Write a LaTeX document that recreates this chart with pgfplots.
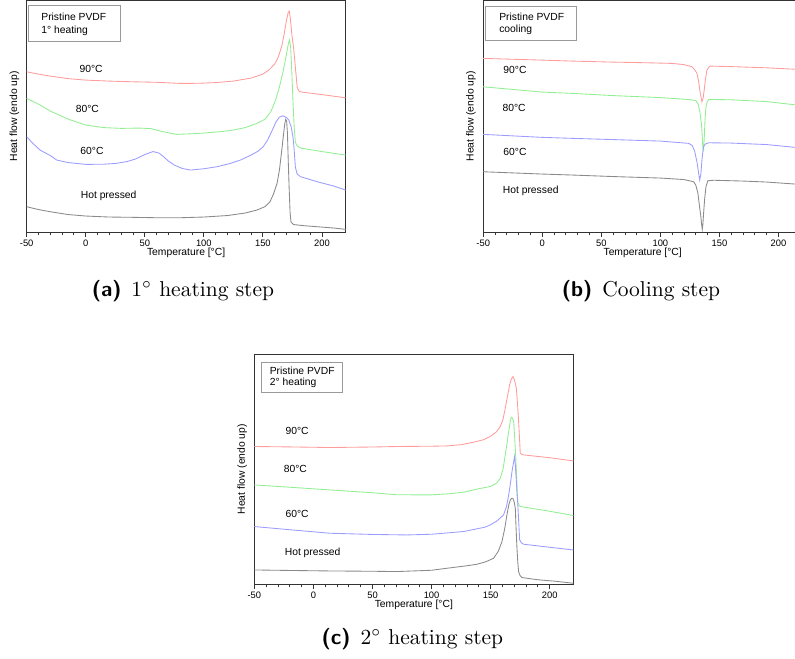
\documentclass[border=0pt]{standalone}
\usepackage{fontspec}
\usepackage{pgfplots}
\pgfplotsset{compat=1.18}
\newfontfamily\chartfont{Liberation Sans}
\definecolor{c90}{HTML}{FF9C9C}
\definecolor{c80}{HTML}{92EE92}
\definecolor{c60}{HTML}{9C9CFF}
\definecolor{chp}{HTML}{8A8A8A}
\definecolor{boxgrey}{HTML}{9A9A9A}
\newcommand{\lbl}{\chartfont\fontsize{4.8pt}{5.7pt}\selectfont}
\newcommand{\tck}{\chartfont\fontsize{4.35pt}{5.2pt}\selectfont}

\pgfplotsset{
  dsc/.style={
    scale only axis,
    width=148.3pt,
    xmin=-50, xmax=220, ymin=0,
    axis line style={draw=black!80, line width=0.45pt},
    xtick={-50,0,50,100,150,200},
    xticklabels={-50,0,50,100,150,200},
    minor x tick num=4,
    xtick pos=bottom,
    ytick=\empty,
    tick align=outside,
    major tick length=2.3pt,
    minor tick length=1.4pt,
    tick style={draw=black!80, line width=0.4pt},
    xticklabel style={font=\tck, inner sep=1pt},
    xlabel={Temperature [°C]},
    ylabel={Heat flow (endo up)},
    xlabel style={font=\lbl, at={(axis description cs:0.5,-0.088)}, anchor=center},
    ylabel style={font=\lbl, at={(axis description cs:-0.038,0.5)}, anchor=center},
    every axis plot/.append style={line width=0.4pt, mark=none},
    clip=true,
  },
}

\begin{document}
\begin{tikzpicture}
\useasboundingbox (0,0) rectangle (369.7pt,306pt);

% ---------- (a) 1st heating ----------
\begin{axis}[dsc, height=107.6pt, ymax=231.5, at={(12.4pt,198.1pt)}, anchor=south west]
\addplot[c90] coordinates {
 (-50,160.3) (-40,158) (-30,156) (-15,153.5) (0,152) (20,151) (40,150.3)
 (60,149.8) (80,148.7) (95,148.8) (110,149.5) (125,151) (140,154) (150,158)
 (155,162) (160,168) (163,175) (166,186) (168,198) (170,212) (171.5,220)
 (172.3,221) (173.3,213) (174.5,198) (176,184) (177.5,165) (179,145)
 (180.5,141) (183,140) (200,137.5) (220,134.3)};
\addplot[c80] coordinates {
 (-50,133.7) (-40,128) (-30,121) (-15,113) (0,107) (15,104.5) (30,103.7)
 (45,104) (55,103.5) (65,100.5) (77,97.7) (90,98.3) (100,99) (115,100.5)
 (125,102) (135,104.5) (145,108.7) (152,113) (157,121) (161,133) (164,145)
 (167,160) (169.5,175) (171.5,188) (172.5,192) (173.5,185) (174.5,160)
 (175.5,130) (176.5,105) (177.5,90) (179,86) (182,84) (200,80.5) (220,77)};
\addplot[c60] coordinates {
 (-50,95.3) (-45,89) (-38.7,82) (-30,76.5) (-24.5,72) (-15,69.5) (0,67.7)
 (15,67.8) (26,68.7) (35,70.5) (42,73) (50,77.5) (57,80.5) (62,79) (66,75.3)
 (70,71) (75,67) (82,63.5) (89,62) (100,63.3) (111,65.3) (122,68.5) (131,72)
 (140,77) (146,81) (150,85) (154,92) (158,102) (161,110) (164,115)
 (167,116.3) (170,114.5) (172,112) (174,105) (175.5,95) (176.5,82)
 (177.5,65) (179,58) (182,55.3) (190,52.5) (196,50.3) (210,46) (220,42)};
\addplot[chp] coordinates {
 (-50,25.3) (-40,22.5) (-30,20.3) (-15,17.5) (0,16) (20,15) (40,14.7)
 (60,14.3) (80,14.3) (100,15) (120,16.5) (135,19) (145,22) (152,25.5)
 (156,30.3) (159,38) (162,48.7) (164,62) (166,82) (167.5,98) (168.5,108)
 (169.3,112.7) (170.1,111) (170.8,98.7) (171.5,70) (172.2,45) (173,20)
 (173.8,10) (176,7.5) (185,6.3) (196,5.3) (210,4) (220,2.7)};
\draw[boxgrey, line width=0.35pt] (axis cs:-48.5,227) rectangle (axis cs:29.4,191);
\node[font=\lbl, anchor=west, inner sep=0pt] at (axis cs:-37.9,215.3) {Pristine PVDF};
\node[font=\lbl, anchor=west, inner sep=0pt] at (axis cs:-37.9,201) {1° heating};
\node[font=\lbl, anchor=west, inner sep=0pt] at (axis cs:-5.6,162.7) {90°C};
\node[font=\lbl, anchor=west, inner sep=0pt] at (axis cs:-8.7,123) {80°C};
\node[font=\lbl, anchor=west, inner sep=0pt] at (axis cs:-4.8,81.3) {60°C};
\node[font=\lbl, anchor=west, inner sep=0pt] at (axis cs:-4.5,36.3) {Hot pressed};
\end{axis}

% ---------- (b) cooling ----------
\begin{axis}[dsc, height=107.6pt, ymax=231.5, at={(224.7pt,198.1pt)}, anchor=south west]
\addplot[c90] coordinates {
 (-50,173.7) (0,172) (25.8,171) (60,170) (90,169.3) (110,168.7) (120,167.5)
 (126.8,165.3) (129,162.5) (131,158.7) (132.5,150) (133.8,138.7)
 (135.2,130.3) (136.2,134) (137.1,142) (138.2,153) (139.4,162) (141,165)
 (142.2,166) (160,165.5) (190,164.3) (220,162.5)};
\addplot[c80] coordinates {
 (-50,145.3) (0,140) (25.8,138.7) (60,136.5) (100,134.5) (125,132.5)
 (130,131.5) (132,128) (133.5,120) (134.8,108) (135.5,95) (136,84)
 (136.6,82) (137.2,95) (137.8,112) (138.5,124) (139.5,130) (141,132.7)
 (160,132.3) (190,130.5) (220,126.5)};
\addplot[c60] coordinates {
 (-50,97.7) (0,94.7) (25.8,93.7) (60,92.5) (100,91) (124,88.7) (127,86.5)
 (129,81) (131,70) (132.5,58) (133.3,52) (134.3,58) (135.2,72) (136,81)
 (136.6,85.3) (138,88) (141,89.3) (160,89) (190,87.5) (220,84)};
\addplot[chp] coordinates {
 (-50,60.3) (0,58) (25.8,57) (60,55.5) (100,54) (120,52.5) (128.2,50.3)
 (130,47) (131.8,38.7) (133,27) (134.3,15.3) (135,7) (135.5,2.7) (136,8)
 (136.6,18.7) (137.5,33) (138.6,45.3) (140.2,51.3) (145,51.8) (170,51)
 (190,50) (220,47.5)};
\draw[boxgrey, line width=0.35pt] (axis cs:-48,225.3) rectangle (axis cs:29,191.3);
\node[font=\lbl, anchor=west, inner sep=0pt] at (axis cs:-36.7,215.3) {Pristine PVDF};
\node[font=\lbl, anchor=west, inner sep=0pt] at (axis cs:-36.7,202) {cooling};
\node[font=\lbl, anchor=west, inner sep=0pt] at (axis cs:-33.2,162) {90°C};
\node[font=\lbl, anchor=west, inner sep=0pt] at (axis cs:-34,124.3) {80°C};
\node[font=\lbl, anchor=west, inner sep=0pt] at (axis cs:-33.2,79.7) {60°C};
\node[font=\lbl, anchor=west, inner sep=0pt] at (axis cs:-33.7,41) {Hot pressed};
\end{axis}

% ---------- (c) 2nd heating ----------
\begin{axis}[dsc, height=107pt, ymax=230, at={(118.3pt,34.3pt)}, anchor=south west]
\addplot[c90] coordinates {
 (-50,137.7) (-20,137.3) (14,136.7) (50,137.2) (70.6,137.7) (100,138)
 (113,138.3) (125,139.5) (135.6,142) (144,144.5) (149.7,147.7) (155,152.5)
 (158.2,157.7) (160.5,165) (162.4,176) (164.3,188) (166.1,199.3)
 (167.5,205) (168.9,207.7) (170.3,204) (171.8,196) (172.8,180)
 (173.7,162.7) (174.5,145) (175.1,131) (176.5,129.8) (178,129.3)
 (200,126.5) (220,123.3)};
\addplot[c80] coordinates {
 (-50,99.3) (-20,97) (14,94.3) (50,91.5) (70,89.5) (98.9,89.3) (115,90.5)
 (127.1,92) (140,95.5) (149.7,97.7) (155,101) (158.2,106) (160.5,115)
 (162.4,129.3) (164,142) (165.3,152.7) (166.5,162) (167.5,167) (168.5,166)
 (169.5,162.7) (170.3,148) (171.2,129.3) (172.1,105) (172.9,82.7) (174,79)
 (175.1,77.7) (200,73) (220,68.7)};
\addplot[c60] coordinates {
 (-50,57.7) (-20,54.5) (14,51) (50,49.8) (79.1,49.3) (100,50) (127.1,52.7)
 (145,57) (149.7,59.3) (155,63) (161,69.3) (163.5,78) (165.3,89.3)
 (166.8,101) (168.1,112.7) (169.3,121) (170.3,127.7) (171,118) (171.8,102.7)
 (172.4,90) (172.9,82.7) (173.8,62) (174.6,44.3) (176,41.5) (178,40)
 (200,37) (220,34.3)};
\addplot[chp] coordinates {
 (-50,14.3) (-20,13.8) (14,13.3) (50,13) (70.6,12.7) (100,14) (113,16)
 (130,18.5) (138.4,20) (146,22.5) (152.5,26) (156.5,33) (159.6,42.7)
 (162,56) (163.8,69.3) (165.5,80) (166.7,84.3) (167.8,86) (168.9,86)
 (170,82) (170.9,76) (171.6,55) (172.3,36) (173,22) (173.7,12.7)
 (174.8,9) (176.6,6.7) (190,4.5) (205,3) (220,1)};
\draw[boxgrey, line width=0.35pt] (axis cs:-43.7,222) rectangle (axis cs:24.6,192);
\node[font=\lbl, anchor=west, inner sep=0pt] at (axis cs:-37.3,213.8) {Pristine PVDF};
\node[font=\lbl, anchor=west, inner sep=0pt] at (axis cs:-37.3,201.3) {2° heating};
\node[font=\lbl, anchor=west, inner sep=0pt] at (axis cs:-24,153) {90°C};
\node[font=\lbl, anchor=west, inner sep=0pt] at (axis cs:-25.4,115.3) {80°C};
\node[font=\lbl, anchor=west, inner sep=0pt] at (axis cs:-24,70) {60°C};
\node[font=\lbl, anchor=west, inner sep=0pt] at (axis cs:-24.6,31.6) {Hot pressed};
\end{axis}

% ---------- sub-captions ----------
\node[anchor=base, inner sep=0pt] at (85.1pt,168pt) {{\sffamily\bfseries (a)}\hspace{4.6pt}1$^\circ$ heating step};
\node[anchor=base, inner sep=0pt] at (298.1pt,168pt) {{\sffamily\bfseries (b)}\hspace{4.6pt}Cooling step};
\node[anchor=base, inner sep=0pt] at (191.8pt,6.5pt) {{\sffamily\bfseries (c)}\hspace{4.6pt}2$^\circ$ heating step};
\end{tikzpicture}
\end{document}
